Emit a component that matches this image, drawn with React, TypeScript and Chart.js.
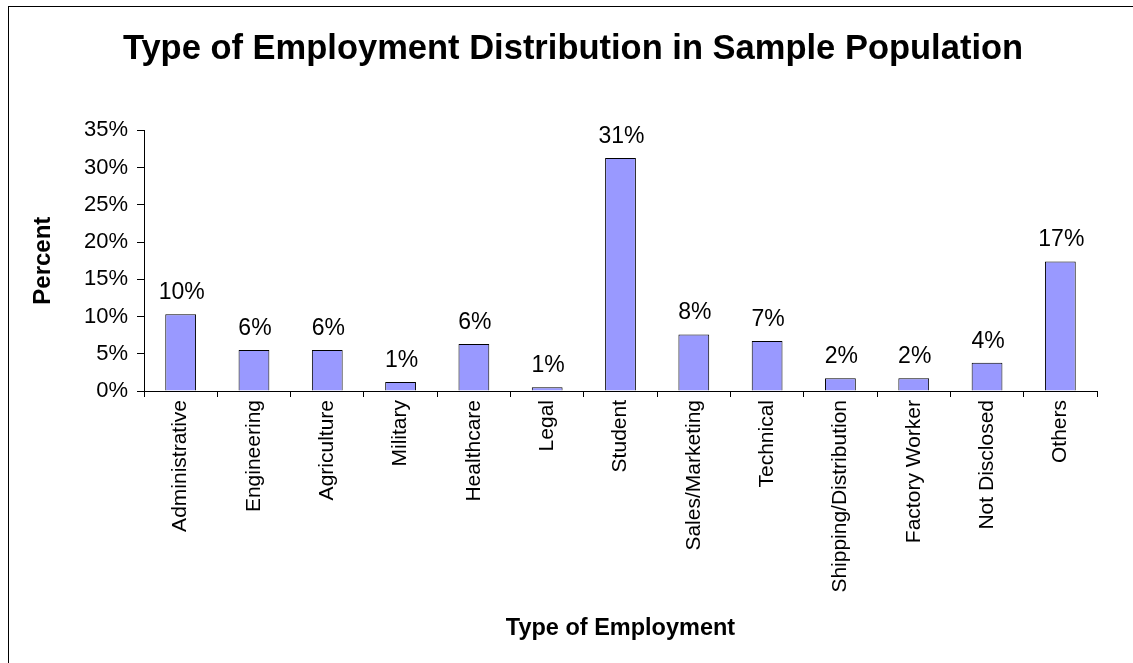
import React, { useEffect, useRef } from "react";
import { Chart, registerables } from "chart.js";

Chart.register(...registerables);

const categories = [
  "Administrative",
  "Engineering",
  "Agriculture",
  "Military",
  "Healthcare",
  "Legal",
  "Student",
  "Sales/Marketing",
  "Technical",
  "Shipping/Distribution",
  "Factory Worker",
  "Not Disclosed",
  "Others",
];

const percentValues = [10.3, 5.5, 5.5, 1.2, 6.3, 0.5, 31.3, 7.6, 6.7, 1.7, 1.7, 3.8, 17.4];

const yTickValues = [0, 5, 10, 15, 20, 25, 30, 35];

const FONT = "Arial, 'Liberation Sans', sans-serif";

const valueLabelPlugin = {
  id: "valueLabels",
  afterDatasetsDraw(chart: any) {
    const { ctx } = chart;
    const meta = chart.getDatasetMeta(0);
    ctx.save();
    ctx.fillStyle = "#000";
    ctx.font = `23px ${FONT}`;
    ctx.textAlign = "center";
    ctx.textBaseline = "alphabetic";
    meta.data.forEach((bar: any, i: number) => {
      const v = chart.data.datasets[0].data[i] as number;
      ctx.fillText(Math.round(v) + "%", bar.x + 1, bar.y - 15);
    });
    ctx.restore();
  },
};

export default function App() {
  const canvasRef = useRef<HTMLCanvasElement | null>(null);

  useEffect(() => {
    if (!canvasRef.current) return;
    const chart = new Chart(canvasRef.current, {
      type: "bar",
      data: {
        labels: categories,
        datasets: [
          {
            data: percentValues,
            backgroundColor: "#9999FF",
            borderColor: "#000000",
            borderWidth: 1,
            categoryPercentage: 1,
            barPercentage: 0.42,
          },
        ],
      },
      plugins: [valueLabelPlugin],
      options: {
        responsive: false,
        animation: false,
        color: "#000",
        layout: { padding: { left: 49, right: 36, top: 0, bottom: 0 } },
        plugins: {
          legend: { display: false },
          tooltip: { enabled: false },
          title: {
            display: true,
            text: "Type of Employment Distribution in Sample Population",
            color: "#000",
            font: { family: FONT, size: 34.5, weight: "bold" },
            padding: { top: 29, bottom: 60 },
          },
        },
        scales: {
          x: {
            afterFit: (scale: any) => {
              scale.height = 272;
            },
            grid: {
              display: true,
              offset: true,
              drawOnChartArea: false,
              drawTicks: true,
              tickLength: 6,
              color: "#000",
            },
            border: { display: true, color: "#000", width: 1 },
            ticks: {
              autoSkip: false,
              minRotation: 90,
              maxRotation: 90,
              padding: 3,
              color: "#000",
              font: { family: FONT, size: 21 },
            },
            title: {
              display: true,
              text: "Type of Employment",
              color: "#000",
              font: { family: FONT, size: 23.5, weight: "bold" },
              padding: { top: 0, bottom: 20 },
            },
          },
          y: {
            min: 0,
            max: 35,
            afterFit: (scale: any) => {
              scale.width = 95;
            },
            afterBuildTicks: (scale: any) => {
              scale.ticks = yTickValues.map((v) => ({ value: v }));
            },
            grid: {
              display: true,
              drawOnChartArea: false,
              drawTicks: true,
              tickLength: 7,
              color: "#000",
            },
            border: { display: true, color: "#000", width: 1 },
            ticks: {
              padding: 9,
              color: "#000",
              font: { family: FONT, size: 22 },
              callback: (v: any) => v + "%",
            },
            title: {
              display: true,
              text: "Percent",
              color: "#000",
              font: { family: FONT, size: 24, weight: "bold" },
              padding: { top: -20.4, bottom: 0 },
            },
          },
        },
      },
    });
    return () => chart.destroy();
  }, []);

  return (
    <div
      style={{
        position: "fixed",
        left: 0,
        top: 0,
        width: 1133,
        height: 663,
        overflow: "hidden",
        background: "#fff",
      }}
    >
      <canvas
        ref={canvasRef}
        width={1133}
        height={663}
        style={{ position: "absolute", left: 0, top: 0, width: 1133, height: 663 }}
      />
      <div
        style={{
          position: "absolute",
          left: 8,
          top: 6,
          width: 2000,
          height: 2000,
          borderTop: "1px solid #000",
          borderLeft: "1px solid #000",
          pointerEvents: "none",
        }}
      />
    </div>
  );
}
